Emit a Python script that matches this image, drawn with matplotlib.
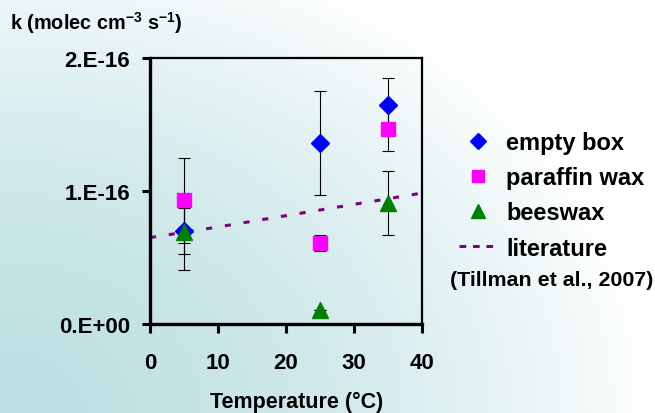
import numpy as np
import matplotlib
matplotlib.use('Agg')
import matplotlib.pyplot as plt
from matplotlib.lines import Line2D

plt.rcParams['font.family'] = ['Liberation Sans', 'DejaVu Sans']
plt.rcParams['font.weight'] = 'bold'
plt.rcParams['mathtext.fontset'] = 'custom'
plt.rcParams['mathtext.rm'] = 'Liberation Sans:bold'
plt.rcParams['mathtext.bf'] = 'Liberation Sans:bold'
plt.rcParams['mathtext.default'] = 'bf'

# data (k in units of 1e-16 molec cm-3 s-1)
temp = [5, 25, 35]
empty_box = [0.70, 1.36, 1.65]
empty_box_err = [0.17, 0.39, 0.20]
paraffin = [0.93, 0.61, 1.47]
paraffin_err = [0.32, 0.06, 0.17]
beeswax = [0.69, 0.105, 0.91]
beeswax_err = [0.28, 0.0, 0.24]
lit_temp = [0, 10, 20, 30, 40]
lit_k = [0.65, 0.73, 0.815, 0.90, 0.985]

x_ticks = [0, 10, 20, 30, 40]
y_ticks = [0, 1e-16, 2e-16]
y_ticklabels = ['0.E+00', '1.E-16', '2.E-16']

scale = 1e-16
fig = plt.figure(figsize=(6.55, 4.14), dpi=100)

# background gradient, teal in the lower left fading to white
bg = fig.add_axes([0, 0, 1, 1], zorder=-10)
gx, gy = np.meshgrid(np.linspace(0, 1, 400), np.linspace(0, 1, 300))
f = np.clip(np.sqrt(gx**2 + (0.84 * gy)**2), 0, 1) ** 1.7
teal = np.array([190, 224, 226]) / 255.0
img = teal[None, None, :] + (1 - teal[None, None, :]) * f[:, :, None]
bg.imshow(img, origin='lower', extent=[0, 1, 0, 1], aspect='auto')
bg.set_axis_off()

ax = fig.add_axes([0.229, 0.215, 0.415, 0.642])
ax.patch.set_alpha(0)

ax.plot(lit_temp, np.array(lit_k) * scale, color='#800080', lw=2.2,
        dashes=(2, 4.2), dash_capstyle='butt', zorder=1)

series = [
    (empty_box, empty_box_err, 'D', '#0000ff', 9, 'empty box'),
    (paraffin, paraffin_err, 's', '#ff00ff', 10, 'paraffin wax'),
    (beeswax, beeswax_err, '^', '#008000', 11, 'beeswax'),
]
for vals, errs, m, c, ms, lab in series:
    ax.errorbar(temp, np.array(vals) * scale, yerr=np.array(errs) * scale,
                fmt='none', ecolor='black', elinewidth=0.8, capsize=4,
                capthick=0.8, zorder=2)
for vals, errs, m, c, ms, lab in series:
    ax.plot(temp, np.array(vals) * scale, m, color=c, ms=ms, mec=c, zorder=3)

ax.set_xlim(0, 40)
ax.set_ylim(0, 2e-16)
ax.set_xticks(x_ticks)
ax.set_yticks(y_ticks)
ax.set_yticklabels(y_ticklabels)
ax.tick_params(axis='both', direction='out', width=2.2, labelsize=16)
ax.tick_params(axis='y', length=6, pad=8.5)
ax.tick_params(axis='x', length=6.5, pad=14)
for s in ['left', 'bottom']:
    ax.spines[s].set_linewidth(2.4)
for s in ['top', 'right']:
    ax.spines[s].set_linewidth(1.6)

fig.text(297 / 655, 1 - 408 / 414, 'Temperature (°C)', ha='center',
         va='baseline', fontsize=15.5, fontweight='bold')
fig.text(10 / 655, 1 - 30 / 414, 'k (molec cm$^{-3}$ s$^{-1}$)',
         ha='left', va='baseline', fontsize=14.3, fontweight='bold')

handles = [Line2D([], [], ls='none', marker=m, color=c, ms=ms * 0.9)
           for vals, errs, m, c, ms, lab in series]
handles.append(Line2D([], [], color='#800080', lw=2.2, dashes=(2.2, 2.2)))
labels = [s[5] for s in series] + ['literature']
fig.legend(handles, labels, loc='upper left', bbox_to_anchor=(447 / 655, 1 - 120 / 414),
           frameon=False, fontsize=17, handlelength=1.6, handletextpad=0.4,
           labelspacing=0.52, borderpad=0)
fig.text(552 / 655, 1 - 280 / 414, '(Tillman et al., 2007)', ha='center',
         va='center', fontsize=15.4, fontweight='bold')

plt.savefig('out.png', dpi=100)
